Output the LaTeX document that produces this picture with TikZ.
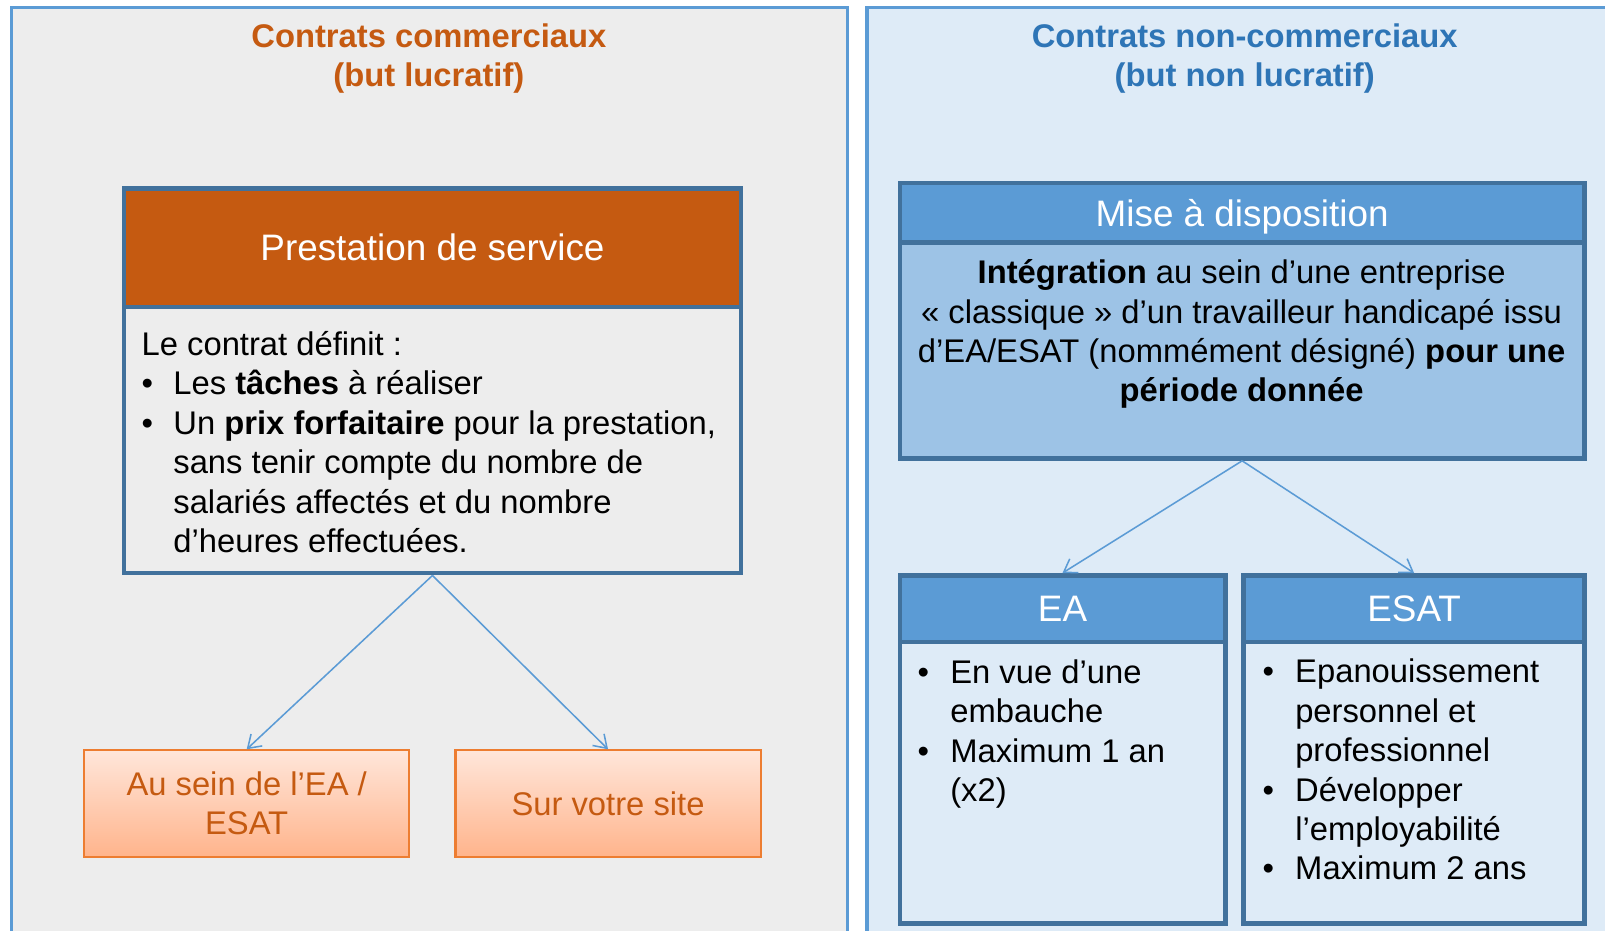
\documentclass[tikz,border=0pt]{standalone}
\usepackage{fontspec}
\setmainfont{Liberation Sans}
\usetikzlibrary{arrows.meta}
\definecolor{panelblue}{HTML}{5B9BD5}
\definecolor{lgray}{HTML}{EDEDED}
\definecolor{lblue}{HTML}{DEEBF7}
\definecolor{darkb}{HTML}{41719C}
\definecolor{orhead}{HTML}{C55A11}
\definecolor{midblue}{HTML}{9DC3E6}
\definecolor{oborder}{HTML}{ED7D31}
\definecolor{otop}{HTML}{FFE6DA}
\definecolor{obot}{HTML}{FFB48C}
\definecolor{otext}{HTML}{C55A11}
\definecolor{titleblue}{HTML}{2E75B6}
\begin{document}
\begin{tikzpicture}[x=0.5pt,y=-0.5pt,
  panel/.style={draw=panelblue, line width=1.5pt},
  hdr/.style={draw=darkb, line width=2.2pt, font=\fontsize{18}{21.6}\selectfont, text=white, inner sep=0pt, text height=12.9pt, text depth=0pt},
  bodybox/.style={draw=darkb, line width=2.2pt, inner sep=0pt},
  txt/.style={font=\fontsize{16}{19.25}\selectfont, inner sep=0pt, text=black},
  ttl/.style={font=\fontsize{16}{19.25}\selectfont\bfseries, inner sep=0pt, align=center},
  obox/.style={draw=oborder, line width=1pt, top color=otop, bottom color=obot, font=\fontsize{16}{19.25}\selectfont, text=otext, align=center, inner sep=0pt, minimum height=52pt},
  conn/.style={draw=panelblue, line width=0.75pt, -{Straight Barb[length=6pt,width=8pt]}}
]
\useasboundingbox (0,0) rectangle (1568,909);
\fill[white] (0,0) rectangle (1568,909);
\path[panel, fill=lgray] (11,7) rectangle (828,960);
\path[panel, fill=lblue] (847,7) rectangle (1640,960);

% titles
\node[ttl, text=orhead] (tl) at (419,57) {Contrats commerciaux\\(but lucratif)};
\node[ttl, text=titleblue] (tr) at (1216,57) {Contrats non-commerciaux\\(but non lucratif)};

% Prestation de service
\node[bodybox, fill=lgray, minimum width=301.5pt, minimum height=130pt] (presB) at (422.5,430) {};
\node[hdr, fill=orhead, minimum width=301.5pt, minimum height=58pt] (presH) at (422.5,242) {Prestation de service};
\node[txt, anchor=west, align=left] (presT) at (138,432) {Le contrat définit :\\
\makebox[15.5pt][l]{\textbullet}Les \textbf{tâches} à réaliser\\
\makebox[15.5pt][l]{\textbullet}Un \textbf{prix forfaitaire} pour la prestation,\\
\hspace*{15.5pt}sans tenir compte du nombre de\\
\hspace*{15.5pt}salariés affectés et du nombre\\
\hspace*{15.5pt}d’heures effectuées.};

% orange boxes
\node[obox, minimum width=159pt] (au) at (241,785) {Au sein de l’EA /\\ESAT};
\node[obox, minimum width=149pt] (sur) at (594,785) {Sur votre site};

\draw[conn] (presB.south) -- (au.north);
\draw[conn] (presB.south) -- (sur.north);

% Mise a disposition
\node[bodybox, fill=midblue, minimum width=334.5pt, minimum height=105.5pt] (miseB) at (1213.5,342.5) {};
\node[hdr, fill=panelblue, minimum width=334.5pt, minimum height=29pt] (miseH) at (1213.5,208) {Mise à disposition};
\node[txt, align=center] (miseT) at (1213,326.5) {\textbf{Intégration} au sein d’une entreprise\\
«~classique~» d’un travailleur handicapé issu\\
d’EA/ESAT (nommément désigné) \textbf{pour une}\\
\textbf{période donnée}};

% EA
\node[bodybox, fill=lblue, minimum width=159pt, minimum height=137.5pt] (eaB) at (1038,764.5) {};
\node[hdr, fill=panelblue, minimum width=159pt, minimum height=32.5pt] (eaH) at (1038,594.5) {EA};
\node[txt, anchor=west, align=left] (eaT) at (896,717) {\makebox[16pt][l]{\textbullet}En vue d’une\\
\hspace*{16pt}embauche\\
\makebox[16pt][l]{\textbullet}Maximum 1 an\\
\hspace*{16pt}(x2)};

% ESAT
\node[bodybox, fill=lblue, minimum width=166.5pt, minimum height=137.5pt] (esatB) at (1381.5,764.5) {};
\node[hdr, fill=panelblue, minimum width=166.5pt, minimum height=32.5pt] (esatH) at (1381.5,594.5) {ESAT};
\node[txt, anchor=west, align=left] (esatT) at (1233,752) {\makebox[16pt][l]{\textbullet}Epanouissement\\
\hspace*{16pt}personnel et\\
\hspace*{16pt}professionnel\\
\makebox[16pt][l]{\textbullet}Développer\\
\hspace*{16pt}l’employabilité\\
\makebox[16pt][l]{\textbullet}Maximum 2 ans};

\draw[conn] (miseB.south) -- (eaH.north);
\draw[conn] (miseB.south) -- (esatH.north);
\end{tikzpicture}
\end{document}
